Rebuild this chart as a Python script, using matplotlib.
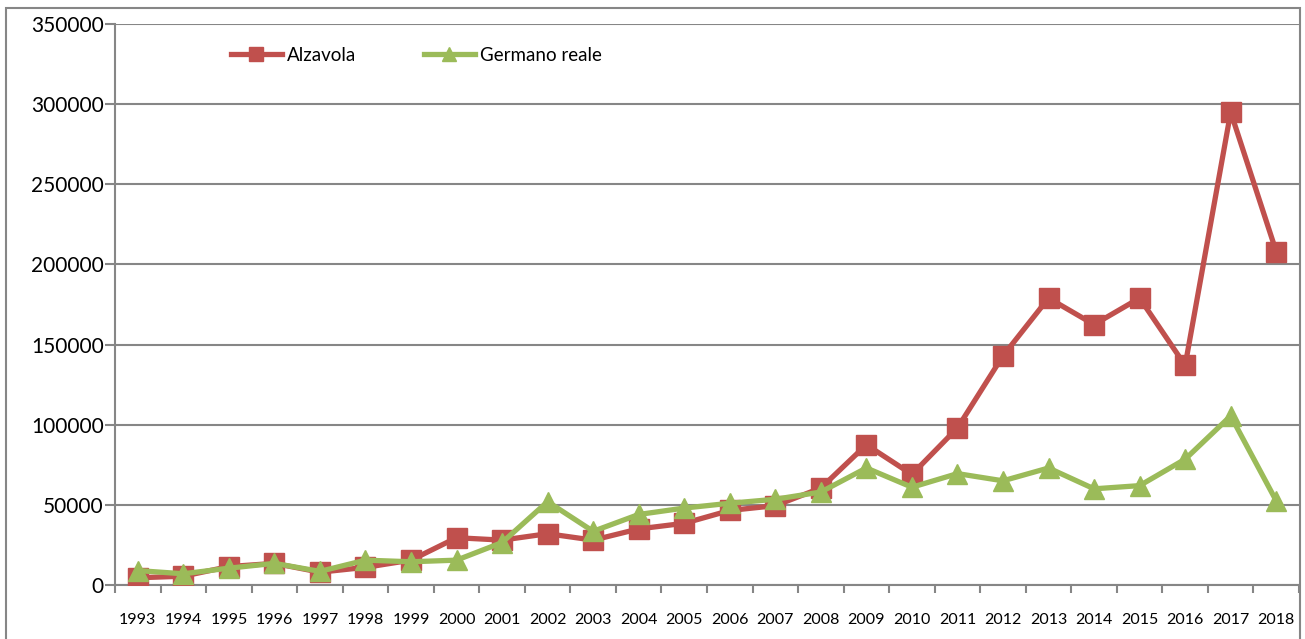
import matplotlib
matplotlib.use("Agg")
import matplotlib.pyplot as plt
from matplotlib.patches import Rectangle

years = [str(y) for y in range(1993, 2019)]
alzavola = [4500, 5500, 11500, 13500, 8000, 11000, 15500, 29500, 28000, 32000,
            28000, 35000, 38500, 46500, 49500, 60500, 87500, 69000, 98000, 143000,
            179000, 162500, 179000, 137000, 295000, 208000]
germano = [9000, 7000, 10500, 13500, 8500, 15500, 14500, 15500, 26500, 52000,
           33500, 44000, 48000, 51000, 53500, 58000, 73000, 61000, 69500, 65000,
           73000, 60000, 62000, 78500, 105500, 52500]
yticks = [0, 50000, 100000, 150000, 200000, 250000, 300000, 350000]

RED = "#C0504D"
GREEN = "#9BBB59"
GRID = "#868686"

plt.rcParams['font.family'] = ['Lato', 'DejaVu Sans']

W, H = 1305, 639
fig = plt.figure(figsize=(W / 100, H / 100), dpi=100)
ax = fig.add_axes([115 / W, 1 - 585 / H, (1299 - 115) / W, (585 - 24) / H])

x = list(range(len(years)))
ax.plot(x, alzavola, color=RED, lw=3.8, marker='s', ms=14, mec=RED, mfc=RED,
        label='Alzavola', zorder=3, solid_joinstyle='round')
ax.plot(x, germano, color=GREEN, lw=3.8, marker='^', ms=14, mec=GREEN, mfc=GREEN,
        label='Germano reale', zorder=4, solid_joinstyle='round')

ax.set_xlim(-0.5, len(years) - 0.5)
ax.set_ylim(0, 350000)
ax.set_yticks(yticks)
ax.set_yticklabels([str(v) for v in yticks], fontsize=15)
ax.set_xticks(x)
ax.set_xticklabels(years, fontsize=11.5)
ax.set_xticks([i - 0.5 for i in range(len(years) + 1)], minor=True)
ax.tick_params(axis='x', which='major', length=0, pad=20)
ax.tick_params(axis='x', which='minor', length=6, width=1.5, color=GRID, direction='out')
ax.tick_params(axis='y', length=7, width=1.5, color=GRID, pad=1)

ax.grid(axis='y', color=GRID, lw=1.5)
ax.set_axisbelow(True)
for s in ['top', 'right']:
    ax.spines[s].set_visible(False)
for s in ['left', 'bottom']:
    ax.spines[s].set_color(GRID)
    ax.spines[s].set_linewidth(1.5)

leg = ax.legend(loc='center left', bbox_to_anchor=(0.098, 0.9447), ncol=2, frameon=False,
                fontsize=13.5, handlelength=2.7, columnspacing=3.6, handletextpad=0.3,
                markerscale=0.68, borderpad=0, borderaxespad=0)

fig.patches.append(Rectangle((6 / W, -0.1), (1300 - 6) / W, 1.1 - 8 / H,
                             transform=fig.transFigure, fill=False,
                             edgecolor=GRID, lw=1.5))

fig.savefig("out.png", dpi=100)
